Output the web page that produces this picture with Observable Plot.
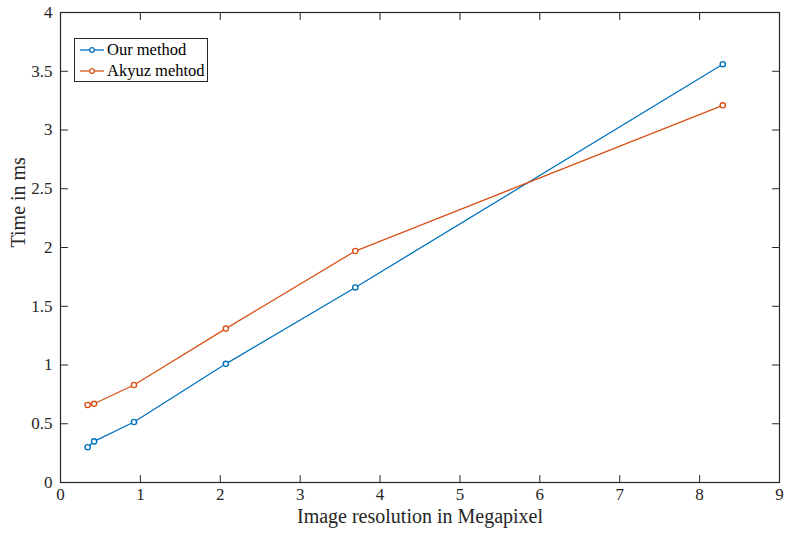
<!DOCTYPE html>
<html>
<head>
<meta charset="utf-8">
<script src="https://cdn.jsdelivr.net/npm/d3@7"></script>
<script src="https://cdn.jsdelivr.net/npm/@observablehq/plot@0.6"></script>
<style>
  html, body { margin: 0; padding: 0; background: #fff; }
  #wrap { position: relative; width: 785px; height: 535px; font-family: "Liberation Serif", "DejaVu Serif", serif; }
  #legend { position: absolute; left: 74px; top: 38px; width: 134px; height: 44px; border: 1px solid #262626; background: #fff; box-sizing: border-box; font-size: 16.5px; color: #000; }
  .row { position: absolute; left: 4px; height: 20px; display: flex; align-items: center; white-space: nowrap; }
  .row svg { margin-right: 2px; }
</style>
</head>
<body>
<div id="wrap"></div>
<script>
const resolution = [0.34, 0.42, 0.92, 2.07, 3.69, 8.29];
const ourMethod = [0.30, 0.35, 0.515, 1.01, 1.66, 3.56];
const akyuzMethod = [0.66, 0.67, 0.83, 1.31, 1.97, 3.21];
const seriesNames = ["Our method", "Akyuz mehtod"];
const seriesColors = ["#0072BD", "#D95319"];
const xTicks = [0, 1, 2, 3, 4, 5, 6, 7, 8, 9];
const yTicks = [0, 0.5, 1, 1.5, 2, 2.5, 3, 3.5, 4];
const xLabel = "Image resolution in Megapixel";
const yLabel = "Time in ms";

const rows = [];
resolution.forEach((x, i) => rows.push({series: seriesNames[0], x, y: ourMethod[i]}));
resolution.forEach((x, i) => rows.push({series: seriesNames[1], x, y: akyuzMethod[i]}));

const tickShape = {draw(context, l) { context.moveTo(0, 0); context.lineTo(0, -l); }};
const axisColor = "#262626";

const chart = Plot.plot({
  width: 785,
  height: 535,
  marginLeft: 60,
  marginRight: 6,
  marginTop: 12,
  marginBottom: 53,
  style: {fontFamily: "Liberation Serif, serif", fontSize: "16px", color: axisColor, background: "#fff"},
  x: {domain: [0, 9]},
  y: {domain: [0, 4]},
  color: {domain: seriesNames, range: seriesColors},
  marks: [
    Plot.axisX(xTicks, {tickSize: 0, tickPadding: 5, fontSize: 17, label: null, tickFormat: d => String(d)}),
    Plot.axisY(yTicks, {tickSize: 0, tickPadding: 8, fontSize: 17, label: null, tickFormat: d => String(d)}),
    Plot.text([xLabel], {text: d => d, frameAnchor: "bottom", dy: 40, fontSize: 20, fill: axisColor}),
    Plot.text([yLabel], {text: d => d, frameAnchor: "left", dx: -42, rotate: -90, fontSize: 20, fill: axisColor}),
    Plot.vector(xTicks, {x: d => d, y: 0, length: 7, rotate: 0, anchor: "start", shape: tickShape, stroke: axisColor, strokeWidth: 1}),
    Plot.vector(xTicks, {x: d => d, y: 4, length: 7, rotate: 180, anchor: "start", shape: tickShape, stroke: axisColor, strokeWidth: 1}),
    Plot.vector(yTicks, {x: 0, y: d => d, length: 7, rotate: 90, anchor: "start", shape: tickShape, stroke: axisColor, strokeWidth: 1}),
    Plot.vector(yTicks, {x: 9, y: d => d, length: 7, rotate: -90, anchor: "start", shape: tickShape, stroke: axisColor, strokeWidth: 1}),
    Plot.frame({stroke: axisColor, strokeWidth: 1.2}),
    Plot.line(rows, {x: "x", y: "y", z: "series", stroke: "series", strokeWidth: 1.3}),
    Plot.dot(rows, {x: "x", y: "y", stroke: "series", r: 2.6, strokeWidth: 1.4, fill: "white"})
  ]
});
const wrap = document.getElementById("wrap");
wrap.appendChild(chart);

const legend = document.createElement("div");
legend.id = "legend";
seriesNames.forEach((name, i) => {
  const row = document.createElement("div");
  row.className = "row";
  row.style.top = (1 + i * 21) + "px";
  const c = seriesColors[i];
  row.innerHTML = `<svg width="26" height="10"><line x1="1" y1="5" x2="25" y2="5" stroke="${c}" stroke-width="1.3"/><circle cx="13" cy="5" r="2.3" fill="white" stroke="${c}" stroke-width="1.3"/></svg><span>${name}</span>`;
  legend.appendChild(row);
});
wrap.appendChild(legend);
</script>
</body>
</html>
